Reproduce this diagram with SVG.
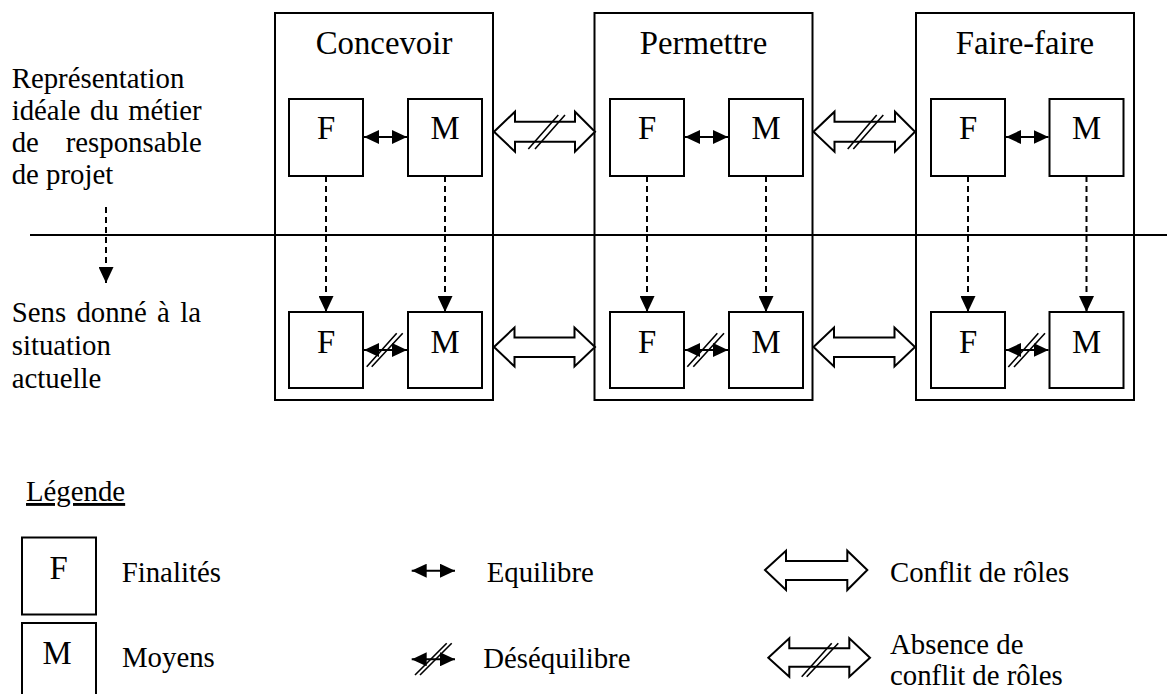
<svg xmlns="http://www.w3.org/2000/svg" width="1167" height="694" viewBox="0 0 1167 694">
<style>
  text { font-family: "Liberation Serif", "Times New Roman", serif; fill: #000; }
  .body { font-size: 28.8px; }
  .title { font-size: 32.8px; text-anchor: middle; }
  .letter { font-size: 32.8px; text-anchor: middle; }
  .box { fill: #fff; stroke: #000; stroke-width: 2; }
  .outer { fill: none; stroke: #000; stroke-width: 2; }
  .hollow { fill: #fff; stroke: #000; stroke-width: 2; stroke-linejoin: miter; }
  .dash { stroke: #000; stroke-width: 2; stroke-dasharray: 6 4; fill: none; marker-end: url(#head); }
  .small { stroke: #000; stroke-width: 2; fill: none; marker-start: url(#shead); marker-end: url(#shead); }
  .slash { stroke: #000; stroke-width: 1.6; fill: none; }
  .rule { stroke: #000; stroke-width: 2; fill: none; }
</style>
<defs>
  <marker id="head" markerUnits="userSpaceOnUse" markerWidth="16" markerHeight="15" refX="16" refY="7.5" orient="auto">
    <path d="M0,0 L16,7.5 L0,15 Z" fill="#000"/>
  </marker>
  <marker id="shead" markerUnits="userSpaceOnUse" markerWidth="15" markerHeight="14" refX="15" refY="7" orient="auto-start-reverse">
    <path d="M0,0 L15,7 L0,14 Z" fill="#000"/>
  </marker>
</defs>
<rect width="1167" height="694" fill="#fff"/>

<!-- separator line -->
<line class="rule" x1="30" y1="235" x2="1167" y2="235"/>

<!-- left labels -->
<g id="label-ideal">
  <text class="body" x="11.7" y="88">Représentation</text>
  <text class="body" y="120"><tspan x="11.7">idéale</tspan><tspan x="90">du</tspan></text>
  <text class="body" x="201.7" y="120" text-anchor="end">métier</text>
  <text class="body" x="11.7" y="152">de</text>
  <text class="body" x="201.7" y="152" text-anchor="end">responsable</text>
  <text class="body" x="11.7" y="184">de projet</text>
</g>
<g id="label-actual">
  <text class="body" y="322"><tspan x="11.7">Sens</tspan><tspan x="76.4">donné</tspan><tspan x="157">à</tspan></text>
  <text class="body" x="201" y="322" text-anchor="end">la</text>
  <text class="body" x="11.7" y="355">situation</text>
  <text class="body" x="11.7" y="388">actuelle</text>
</g>

<!-- column 1 -->
<g id="concevoir">
  <rect class="outer" x="275" y="13" width="218" height="387"/>
  <text class="title" x="384" y="53.5">Concevoir</text>
  <g id="concevoir-f-top"><rect class="box" x="289" y="99" width="74" height="77"/><text class="letter" x="326" y="138.5">F</text></g>
  <g id="concevoir-m-top"><rect class="box" x="408" y="99" width="74" height="77"/><text class="letter" x="445" y="138.5">M</text></g>
  <g id="concevoir-f-bot"><rect class="box" x="289" y="312" width="74" height="76"/><text class="letter" x="326" y="352.5">F</text></g>
  <g id="concevoir-m-bot"><rect class="box" x="408" y="312" width="74" height="76"/><text class="letter" x="445" y="352.5">M</text></g>
</g>

<!-- column 2 -->
<g id="permettre">
  <rect class="outer" x="594.5" y="13" width="218" height="387"/>
  <text class="title" x="703.5" y="53.5">Permettre</text>
  <g id="permettre-f-top"><rect class="box" x="610" y="99" width="74" height="77"/><text class="letter" x="647" y="138.5">F</text></g>
  <g id="permettre-m-top"><rect class="box" x="729" y="99" width="74" height="77"/><text class="letter" x="766" y="138.5">M</text></g>
  <g id="permettre-f-bot"><rect class="box" x="610" y="312" width="74" height="76"/><text class="letter" x="647" y="352.5">F</text></g>
  <g id="permettre-m-bot"><rect class="box" x="729" y="312" width="74" height="76"/><text class="letter" x="766" y="352.5">M</text></g>
</g>

<!-- column 3 -->
<g id="faire-faire">
  <rect class="outer" x="916" y="13" width="218" height="387"/>
  <text class="title" x="1025" y="53.5">Faire-faire</text>
  <g id="faire-f-top"><rect class="box" x="931" y="99" width="74" height="77"/><text class="letter" x="968" y="138.5">F</text></g>
  <g id="faire-m-top"><rect class="box" x="1049.5" y="99" width="74" height="77"/><text class="letter" x="1086.5" y="138.5">M</text></g>
  <g id="faire-f-bot"><rect class="box" x="931" y="312" width="74" height="76"/><text class="letter" x="968" y="352.5">F</text></g>
  <g id="faire-m-bot"><rect class="box" x="1049.5" y="312" width="74" height="76"/><text class="letter" x="1086.5" y="352.5">M</text></g>
</g>

<!-- connectors -->
<g id="connectors">
  <!-- left direction arrow -->
  <line class="dash" x1="106" y1="207" x2="106" y2="283"/>
  <!-- vertical dashed arrows -->
  <line class="dash" x1="326" y1="176" x2="326" y2="312"/>
  <line class="dash" x1="445" y1="176" x2="445" y2="312"/>
  <line class="dash" x1="647" y1="176" x2="647" y2="312"/>
  <line class="dash" x1="766" y1="176" x2="766" y2="312"/>
  <line class="dash" x1="968" y1="176" x2="968" y2="312"/>
  <line class="dash" x1="1086.5" y1="176" x2="1086.5" y2="312"/>
  <!-- equilibre arrows (top) -->
  <line class="small" x1="364" y1="137" x2="407" y2="137"/>
  <line class="small" x1="685" y1="137" x2="728" y2="137"/>
  <line class="small" x1="1006" y1="137" x2="1048.5" y2="137"/>
  <!-- desequilibre arrows (bottom) -->
  <line class="small" x1="364" y1="350" x2="407" y2="350"/>
  <path class="slash" d="M366.7,366.7 L396.7,333.3 M371.7,366.7 L402.7,333.3"/>
  <line class="small" x1="685" y1="350" x2="728" y2="350"/>
  <path class="slash" d="M687.3,366.7 L717.3,333.3 M693.3,366.7 L724,333.3"/>
  <line class="small" x1="1006" y1="350" x2="1048.5" y2="350"/>
  <path class="slash" d="M1008.3,367 L1038.3,333.3 M1014,367 L1045,333.3"/>
  <!-- hollow arrows top (absence de conflit) -->
  <polygon class="hollow" points="494,131.7 515,111.7 515,121.7 575,121.7 575,111.7 595,131.7 575,151.7 575,141.7 515,141.7 515,151.7"/>
  <path class="slash" d="M528.3,149 L558.3,115 M535,149 L565,115"/>
  <polygon class="hollow" points="813.5,131.7 834.5,111.7 834.5,121.7 895,121.7 895,111.7 915,131.7 895,151.7 895,141.7 834.5,141.7 834.5,151.7"/>
  <path class="slash" d="M847.7,149 L876.7,115 M853.3,149 L883.3,115"/>
  <!-- hollow arrows bottom (conflit) -->
  <polygon class="hollow" points="494,347 514.5,327.5 514.5,337.5 574.5,337.5 574.5,327.5 595,347 574.5,366.5 574.5,357 514.5,357 514.5,366.5"/>
  <polygon class="hollow" points="813.5,347 834,327.5 834,337.5 894.5,337.5 894.5,327.5 915,347 894.5,366.5 894.5,357 834,357 834,366.5"/>
</g>

<!-- legend -->
<g id="legend-title">
  <text class="body" x="26" y="501" text-decoration="underline">Légende</text>
</g>
<g id="legend-f">
  <rect class="box" x="22" y="537.5" width="74" height="77"/>
  <text class="letter" x="58.5" y="578.5">F</text>
  <text class="body" x="121.7" y="581.7">Finalités</text>
</g>
<g id="legend-m">
  <rect class="box" x="22" y="623" width="74" height="77"/>
  <text class="letter" x="57" y="663.5">M</text>
  <text class="body" x="122" y="666.7">Moyens</text>
</g>
<g id="legend-equilibre">
  <line class="small" x1="411.7" y1="570.7" x2="455" y2="570.7"/>
  <text class="body" x="486.7" y="581.7">Equilibre</text>
</g>
<g id="legend-desequilibre">
  <line class="small" x1="411.7" y1="659.3" x2="455" y2="659.3"/>
  <path class="slash" d="M415,675 L446.7,643.3 M420,675 L451.7,643.3"/>
  <text class="body" x="483.3" y="668.3">Déséquilibre</text>
</g>
<g id="legend-conflit">
  <polygon class="hollow" points="765,570 786,550.7 786,561 847.3,561 847.3,550.7 867.3,570 847.3,590 847.3,580 786,580 786,590"/>
  <text class="body" x="890" y="581.7">Conflit de rôles</text>
</g>
<g id="legend-absence">
  <polygon class="hollow" points="768.3,657.7 789.3,638.3 789.3,648.3 849.3,648.3 849.3,638.3 870,657.7 849.3,676.7 849.3,666.7 789.3,666.7 789.3,676.7"/>
  <path class="slash" d="M801.7,676.7 L831.7,643.3 M806.7,676.7 L838.3,643.3"/>
  <text class="body" x="890" y="654.3">Absence de</text>
  <text class="body" x="890" y="685">conflit de rôles</text>
</g>
</svg>
